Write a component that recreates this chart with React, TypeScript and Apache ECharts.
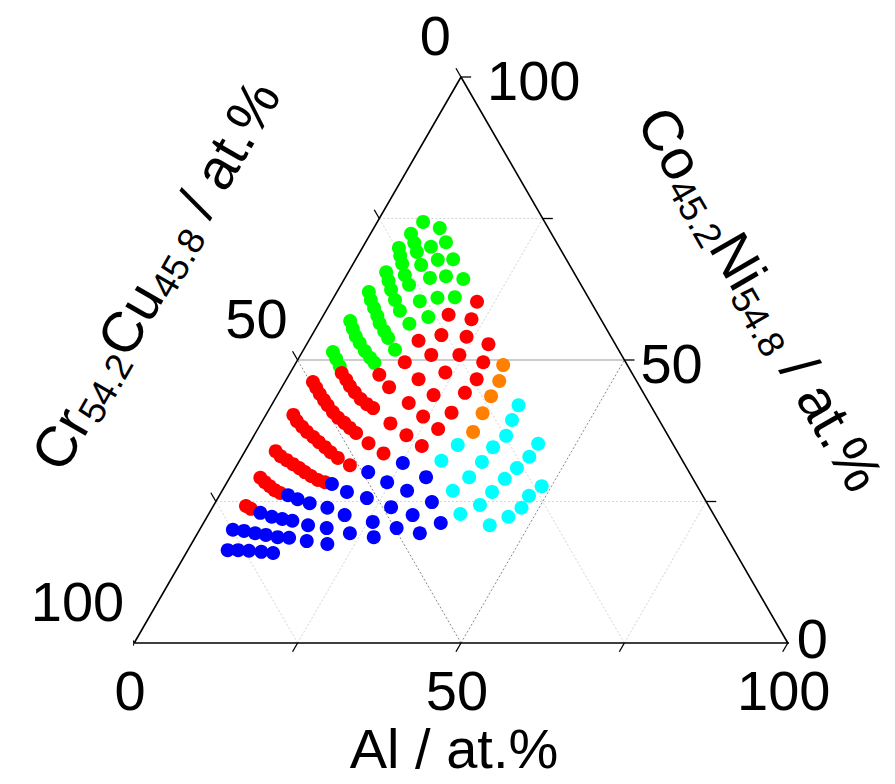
import React, { useEffect, useRef } from 'react';
import * as echarts from 'echarts';

// Compositions in at.% as [Al, Co45.2Ni54.8]; Cr54.2Cu45.8 is the balance.
const greenPts: [number, number][] = [
  [10.1, 73.3], [12.3, 70.8], [14.9, 67.8], [18.2, 64.3],
  [7.0, 74.4], [10.4, 70.0], [12.6, 67.7], [15.3, 64.8], [18.5, 61.1],
  [6.2, 72.3], [7.5, 70.7], [8.7, 69.1], [10.5, 66.8], [13.0, 64.5], [15.9, 61.0],
  [5.6, 69.8], [6.5, 68.4], [7.5, 67.0], [8.9, 65.0], [10.4, 63.3], [13.5, 60.4], [16.2, 57.6],
  [5.8, 65.5], [6.9, 64.0], [8.1, 62.4], [9.6, 60.6], [11.3, 58.7], [13.9, 56.4],
  [4.9, 62.0], [5.9, 60.6], [7.1, 59.2], [8.3, 57.8], [9.3, 56.5], [10.7, 55.1], [11.9, 53.9], [14.0, 51.8],
  [4.6, 56.9], [5.7, 55.5], [6.8, 54.2], [8.0, 53.0], [9.5, 51.6], [10.9, 50.4], [12.0, 49.5],
  [4.7, 51.4], [5.8, 50.2], [7.0, 48.9],
];

const redPts: [number, number][] = [
  [22.3, 60.3], [19.1, 58.0], [23.0, 57.2], [19.8, 54.4], [23.8, 54.1], [16.8, 53.4], [27.8, 52.8],
  [20.0, 50.9], [24.3, 50.9], [16.6, 49.6], [28.6, 49.6], [23.7, 47.8], [13.8, 47.4], [20.2, 46.6],
  [29.1, 46.6], [16.4, 45.2], [23.9, 43.8], [28.5, 44.2], [20.8, 42.4], [28.2, 40.7], [24.2, 40.0],
  [19.8, 38.8], [27.6, 37.8], [23.3, 36.7], [18.2, 35.3], [26.6, 34.8], [21.4, 33.5], [17.3, 31.4],
  [7.9, 47.7], [9.2, 46.5], [10.3, 45.4], [11.6, 44.3], [13.1, 43.1], [14.5, 42.2], [15.8, 41.5],
  [4.3, 46.1], [5.3, 45.1], [6.4, 44.0], [7.6, 42.9], [8.6, 42.0], [10.0, 40.8], [11.3, 39.8],
  [12.7, 38.9], [14.0, 38.0], [15.4, 37.1],
  [4.2, 40.3], [5.3, 39.2], [6.6, 38.2], [7.8, 37.3], [9.2, 36.4], [10.5, 35.5], [11.9, 34.6],
  [13.2, 33.7], [14.8, 32.7],
  [4.7, 33.9], [5.9, 33.0], [7.2, 32.3], [8.5, 31.6], [9.8, 30.9], [11.0, 30.2], [12.3, 29.5],
  [13.7, 28.8], [15.0, 28.4],
  [4.7, 29.2], [5.8, 28.4], [6.9, 27.7], [8.0, 27.0], [9.1, 26.5],
  [5.0, 24.2], [6.0, 23.7],
];

const orangePts: [number, number][] = [
  [31.9, 49.1], [32.7, 46.3], [32.8, 43.6], [33.0, 40.6], [33.2, 37.3],
];

const cyanPts: [number, number][] = [
  [37.8, 42.0], [38.1, 39.4], [38.6, 36.6],
  [32.0, 35.0], [37.6, 34.6], [44.2, 35.2],
  [30.9, 32.2], [37.2, 32.0], [44.0, 32.9],
  [43.1, 30.9], [36.6, 29.3], [42.2, 29.0],
  [35.3, 26.9], [41.4, 26.7], [48.5, 27.7],
  [47.4, 26.0], [40.7, 24.4], [47.3, 23.9],
  [38.5, 22.8], [46.1, 22.3], [44.0, 20.8],
];

const bluePts: [number, number][] = [
  [25.2, 31.8], [30.0, 29.3],
  [20.7, 30.2], [24.5, 28.4], [28.3, 26.9], [33.1, 24.9],
  [16.2, 28.1], [19.2, 26.7], [22.8, 25.6], [27.3, 24.0], [31.3, 22.6], [36.3, 21.2],
  [10.5, 26.1], [12.3, 25.4], [14.5, 24.7], [17.6, 23.9], [20.9, 22.6], [25.8, 21.4], [30.0, 20.3], [34.0, 19.4],
  [7.8, 23.0], [9.9, 22.3], [11.7, 21.9], [13.4, 21.6], [16.2, 20.8], [19.3, 20.3], [23.3, 19.4], [27.3, 18.7],
  [5.1, 20.0], [6.9, 19.8], [8.8, 19.4], [10.6, 19.1], [12.6, 18.7], [14.4, 18.6], [17.4, 18.0], [20.8, 17.5],
  [6.1, 16.4], [7.7, 16.4], [9.4, 16.3], [11.4, 16.1], [13.3, 15.9],
];

const tickValues = [0, 25, 50, 75, 100];
const gridValues = [25, 50, 75];
const labelValues = [0, 50, 100];

const FONT = '"Liberation Sans", Arial, Helvetica, sans-serif';
const H = Math.sqrt(3) / 2;
const TICK = 1.55;

// ternary (Al, CoNi) -> cartesian plane of the triangle
const cart = (al: number, coni: number): [number, number] => [al + coni / 2, coni * H];

const lineSeries = (pts: [number, number][], color: string, width: number, type: any) => ({
  type: 'line',
  data: pts,
  symbol: 'none',
  silent: true,
  clip: false,
  z: 1,
  lineStyle: { color, width, type },
});

const rich = {
  b: { fontSize: 57, fontFamily: FONT, fill: '#000', lineHeight: 61, verticalAlign: 'top' },
  s: { fontSize: 37, fontFamily: FONT, fill: '#000', lineHeight: 28, verticalAlign: 'bottom' },
};

const titleGraphics = [
  {
    type: 'text',
    x: 454,
    y: 748,
    style: { text: 'Al / at.%', fontSize: 56, fontFamily: FONT, fill: '#000', align: 'center', verticalAlign: 'middle' },
  },
  {
    type: 'text',
    x: 157,
    y: 276,
    rotation: Math.PI / 3,
    style: { text: '{b|Cr}{s|54.2}{b|Cu}{s|45.8}{b| / at.%}', rich, align: 'center', verticalAlign: 'middle' },
  },
  {
    type: 'text',
    x: 759,
    y: 300,
    rotation: -Math.PI / 3,
    style: { text: '{b|Co}{s|45.2}{b|Ni}{s|54.8}{b| / at.%}', rich, align: 'center', verticalAlign: 'middle' },
  },
];

function buildOption() {
  const series: any[] = [];

  // grid lines
  gridValues.forEach((v) => {
    const mid = v === 50;
    // constant Co-Ni (horizontal)
    series.push(lineSeries([cart(0, v), cart(100 - v, v)], mid ? '#9a9a9a' : '#d4d4d4', 1, mid ? 'solid' : [2, 2]));
    // constant Al
    series.push(lineSeries([cart(v, 0), cart(v, 100 - v)], mid ? '#8a8a8a' : '#d4d4d4', 1, [2, 2]));
    // constant Cr-Cu
    series.push(lineSeries([cart(100 - v, 0), cart(0, 100 - v)], mid ? '#8a8a8a' : '#d4d4d4', 1, [2, 2]));
  });

  // triangle frame
  series.push({
    ...lineSeries([cart(0, 0), cart(100, 0), cart(0, 100), cart(0, 0)], '#000', 1.6, 'solid'),
    z: 3,
  });

  // tick marks
  tickValues.forEach((v) => {
    const b = cart(v, 0);
    series.push({ ...lineSeries([b, [b[0] - 0.5 * TICK, b[1] - H * TICK]], '#000', 1.3, 'solid'), z: 3 });
    const l = cart(0, 100 - v);
    series.push({ ...lineSeries([l, [l[0] - 0.5 * TICK, l[1] + H * TICK]], '#000', 1.3, 'solid'), z: 3 });
    const r = cart(100 - v, v);
    series.push({ ...lineSeries([r, [r[0] + TICK, r[1]]], '#000', 1.3, 'solid'), z: 3 });
  });

  // composition points
  const dots = (name: string, pts: [number, number][], color: string) => ({
    name,
    type: 'scatter',
    data: pts.map(([al, coni]) => cart(al, coni)),
    symbol: 'circle',
    symbolSize: 14,
    itemStyle: { color, opacity: 1 },
    z: 5,
    silent: true,
  });
  series.push(dots('green', greenPts, '#00ff00'));
  series.push(dots('red', redPts, '#ff0000'));
  series.push(dots('orange', orangePts, '#ff8000'));
  series.push(dots('cyan', cyanPts, '#00ffff'));
  series.push(dots('blue', bluePts, '#0000ff'));

  return {
    animation: false,
    backgroundColor: '#fff',
    grid: { left: 134.2, top: 77, width: 653.6, height: 566, containLabel: false },
    xAxis: { type: 'value', min: 0, max: 100, show: false },
    yAxis: { type: 'value', min: 0, max: 100 * H, show: false },
    series,
    graphic: titleGraphics,
  };
}

// tick labels, placed at the axis positions given by the chart's own scales
function tickLabelGraphics(chart: echarts.ECharts) {
  const px = (p: [number, number]) => chart.convertToPixel({ gridIndex: 0 }, p) as number[];
  const rightOffsets: Record<number, [number, number]> = { 0: [9, -5], 50: [16, 3], 100: [26, 3] };
  const out: any[] = [];
  const txt = (p: number[], v: number, align: string, off: [number, number]) => ({
    type: 'text',
    x: p[0] + off[0],
    y: p[1] + off[1],
    z: 10,
    style: { text: String(v), fontSize: 56, fontFamily: FONT, fill: '#000', align, verticalAlign: 'middle' },
  });
  labelValues.forEach((v) => {
    out.push(txt(px(cart(v, 0)), v, 'center', [-4, 47]));
    out.push(txt(px(cart(0, 100 - v)), v, 'right', [-10, -42]));
    out.push(txt(px(cart(100 - v, v)), v, 'left', rightOffsets[v]));
  });
  return out;
}

export default function App() {
  const ref = useRef<HTMLDivElement>(null);
  useEffect(() => {
    if (!ref.current) return;
    const chart = echarts.init(ref.current, undefined, { renderer: 'svg' });
    chart.setOption(buildOption() as any);
    chart.setOption({ graphic: [...titleGraphics, ...tickLabelGraphics(chart)] } as any);
    return () => chart.dispose();
  }, []);
  return (
    <div
      ref={ref}
      style={{ position: 'absolute', left: 0, top: 0, width: 895, height: 784, background: '#fff' }}
    />
  );
}
